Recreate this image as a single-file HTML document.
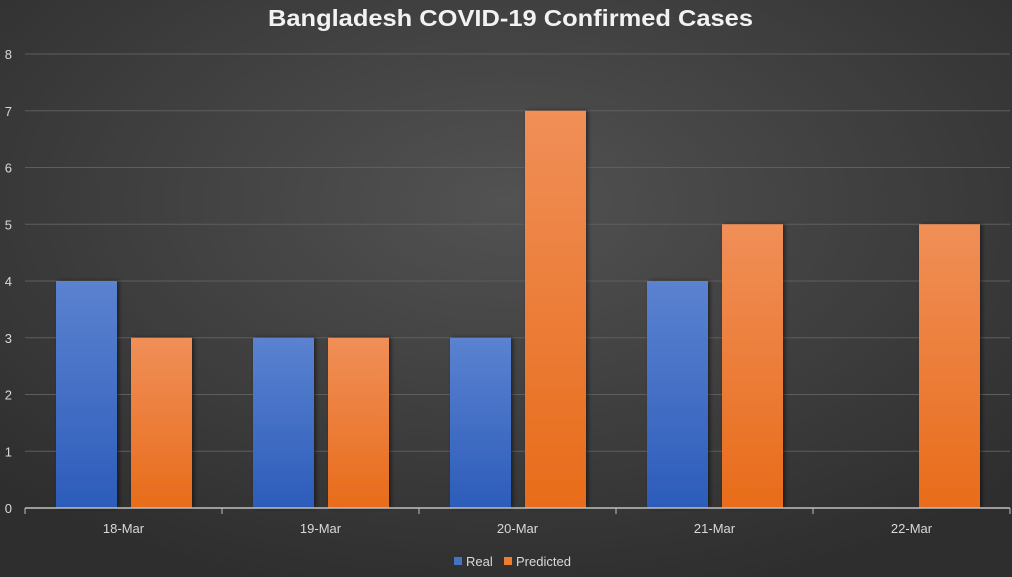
<!DOCTYPE html>
<html><head><meta charset="utf-8"><style>
html,body{margin:0;padding:0;width:1012px;height:577px;overflow:hidden}
svg{display:block;font-family:"Liberation Sans",sans-serif}
</style></head><body>
<svg id="chart" width="1012" height="577" viewBox="0 0 1012 577">
<defs>
<radialGradient id="bg" cx="50%" cy="35%" r="70%">
<stop offset="0" stop-color="#525252"/><stop offset="1" stop-color="#2e2e2e"/></radialGradient>
<linearGradient id="gBlue" x1="0" y1="0" x2="0" y2="1"><stop offset="0" stop-color="#5b82d0"/><stop offset="1" stop-color="#2c5cba"/></linearGradient>
<linearGradient id="gOrange" x1="0" y1="0" x2="0" y2="1"><stop offset="0" stop-color="#f08f58"/><stop offset="1" stop-color="#e86c1a"/></linearGradient>
<filter id="sh" x="-20%" y="-5%" width="140%" height="110%"><feDropShadow dx="2" dy="0" stdDeviation="2" flood-color="#000" flood-opacity="0.5"/></filter>
</defs>
<rect width="1012" height="577" fill="url(#bg)"/>
<text x="268" y="26" textLength="485" lengthAdjust="spacingAndGlyphs" fill="#f2f2f2" font-size="23" font-weight="bold">Bangladesh COVID-19 Confirmed Cases</text>
<g id="grid"></g><g id="bars"></g><g id="axes"></g>
<g>
<rect x="454" y="557" width="8" height="8" fill="#4472c4"/>
<text x="466" y="566" fill="#d9d9d9" font-size="13">Real</text>
<rect x="504" y="557" width="8" height="8" fill="#ed7d31"/>
<text x="516" y="566" fill="#d9d9d9" font-size="13">Predicted</text>
</g>
</svg>
<script>
const categories=["18-Mar","19-Mar","20-Mar","21-Mar","22-Mar"];
const realValues=[4,3,3,4,null];
const predictedValues=[3,3,7,5,5];
const yTicks=[0,1,2,3,4,5,6,7,8];
const NS="http://www.w3.org/2000/svg";
const X0=25,X1=1010,Y0=508,Y1=54,YMAX=8;
const bw=(X1-X0)/categories.length;
const y=v=>Y0-(v/YMAX)*(Y0-Y1);
function mk(t,a,p){const e=document.createElementNS(NS,t);for(const k in a)e.setAttribute(k,a[k]);p.appendChild(e);return e;}
const grid=document.getElementById('grid'),bars=document.getElementById('bars'),axes=document.getElementById('axes');
yTicks.forEach(t=>{
 if(t>0){const l=mk('line',{x1:X0,x2:X1,y1:y(t),y2:y(t),stroke:'#5e5e5e','stroke-width':1},grid);
 
 }
 const tx=mk('text',{x:12,y:y(t)+5,'text-anchor':'end',fill:'#d9d9d9','font-size':13},axes);
 tx.textContent=t;
 
 
});
const ax=mk('line',{x1:X0,x2:X1,y1:Y0,y2:Y0,stroke:'#bfbfbf','stroke-width':1.5},axes);


for(let i=0;i<=categories.length;i++){
 const t=mk('line',{x1:X0+i*bw,x2:X0+i*bw,y1:Y0,y2:Y0+6,stroke:'#bfbfbf'},axes);
 
 
}
categories.forEach((c,i)=>{
 const cx=X0+i*bw;
 const tx=mk('text',{x:cx+bw/2,y:533,'text-anchor':'middle',fill:'#d9d9d9','font-size':13},axes);
 tx.textContent=c;
 
 
 [[realValues[i],'url(#gBlue)',31,'real'],[predictedValues[i],'url(#gOrange)',106,'predicted']].forEach(([v,f,off,n])=>{
  if(v==null)return;
  const r=mk('rect',{x:cx+off,y:y(v),width:61,height:Y0-y(v),fill:f,filter:'url(#sh)'},bars);
  
  
 });
});
</script>
</body></html>
